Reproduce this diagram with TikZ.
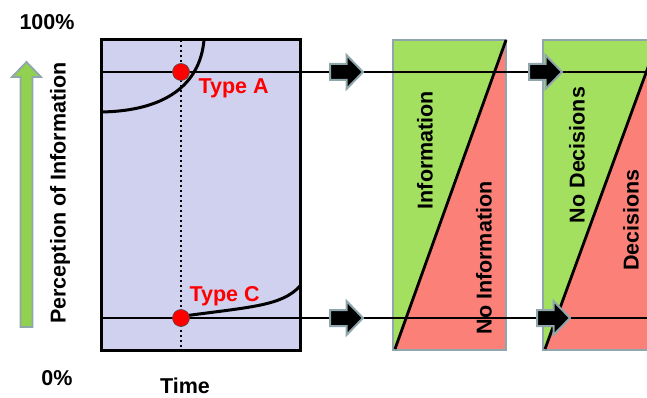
\documentclass[tikz,border=0pt]{standalone}
\usepackage{fontspec}
\setmainfont{Liberation Sans}
\definecolor{lav}{HTML}{D0D0EF}
\definecolor{pgreen}{HTML}{A4E060}
\definecolor{pred}{HTML}{FA8078}
\definecolor{agreen}{HTML}{92D050}
\definecolor{edgegray}{HTML}{90A6AD}
\begin{document}
\begin{tikzpicture}[x=1pt,y=-1pt,
  lbl/.style={font=\fontsize{21.5}{24}\selectfont\bfseries},
  redlbl/.style={lbl,text=red},
  blockarrow/.style={draw=edgegray,fill=black,line width=2pt,line join=miter},
  mainline/.style={line width=2.6pt},
  dot/.style={circle,fill=red,draw=black!70,line width=0.6pt,minimum size=17pt,inner sep=0pt},
  pics/blockarr/.style={code={\draw[blockarrow] (-16.5,-8) -- (0,-8) -- (0,-17) -- (16.5,0) -- (0,17) -- (0,8) -- (-16.5,8) -- cycle;}}]
\useasboundingbox (0,0) rectangle (647,398);
\begin{scope}
\clip (0,0) rectangle (647,398);
% left chart
\draw[fill=lav,line width=3pt] (101,40) rectangle (300,350);
\draw[line width=2.6pt,dash pattern=on 2.4pt off 2.6pt] (181,40) -- (181,348);
\draw[line width=3pt] (101,112) .. controls (165,111) and (200,85) .. (204,40);
\draw[line width=3pt] (184,316) .. controls (250,307) and (282,306) .. (300,286);
% panels
\fill[pgreen] (393,40) rectangle (506,350);
\fill[pred] (393,350) -- (506,40) -- (506,350) -- cycle;
\draw[draw=edgegray,line width=2pt] (393,40) rectangle (506,350);
\draw[line width=2.8pt] (395,349) -- (506,40);
\fill[pgreen] (543,40) rectangle (660,350);
\fill[pred] (545,350) -- (658,40) -- (660,40) -- (660,350) -- cycle;
\draw[draw=edgegray,line width=2pt] (660,40) -- (543,40) -- (543,350) -- (660,350);
\draw[line width=2.8pt] (545,349) -- (658,40);
\node[lbl,rotate=90] (info) at (425,150) {Information};
\node[lbl,rotate=90] (noinfo) at (484,258) {No Information};
\node[lbl,rotate=90] (nodec) at (577,155) {No Decisions};
\node[lbl,rotate=90] (dec) at (631,220) {Decisions};
% lines
\coordinate (topL) at (101,72);
\coordinate (topR) at (650,72);
\coordinate (botL) at (101,318);
\coordinate (botR) at (650,318);
\draw[mainline] (topL) -- (topR);
\draw[mainline] (botL) -- (botR);
% block arrows
\pic (a1) at (346.5,72) {blockarr};
\pic (a2) at (545.5,72) {blockarr};
\pic (a3) at (346.5,318) {blockarr};
\pic (a4) at (553.5,318) {blockarr};
% dots
\node[dot] (pa) at (181,72) {};
\node[dot] (pc) at (181,318) {};
\node[redlbl,anchor=west] (ta) at (195,88) {Type A};
\node[redlbl,anchor=west] (tc) at (186,296) {Type C};
% axis
\draw[draw=edgegray,fill=agreen,line width=1.8pt,line join=miter]
  (26.5,62) -- (41,77) -- (32.5,77) -- (32.5,327) -- (20.5,327) -- (20.5,77) -- (12,77) -- cycle;
\node[lbl,rotate=90] (perc) at (60,193) {Perception of Information};
\node[lbl] (p100) at (47,22) {100\%};
\node[lbl] (p0) at (57,378) {0\%};
\node[lbl] (time) at (185,386) {Time};
\end{scope}
\end{tikzpicture}
\end{document}
